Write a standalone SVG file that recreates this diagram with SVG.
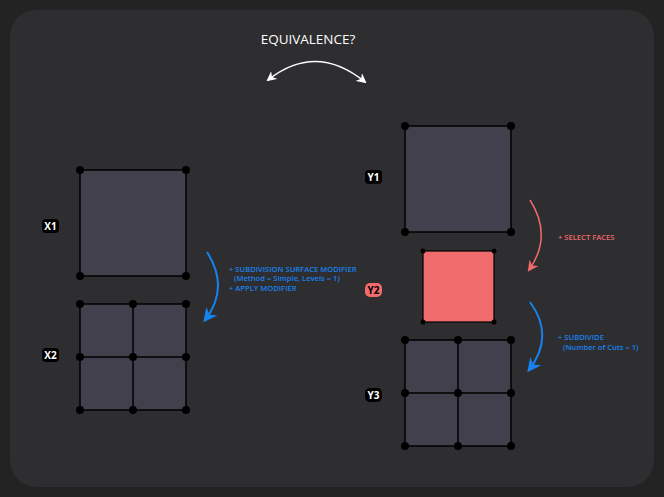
<svg xmlns="http://www.w3.org/2000/svg" width="664" height="497" viewBox="0 0 664 497">
<defs>
<style>
.face{fill:#42404c;stroke:#000;stroke-width:1.5}
.sel{fill:#f06b6b;stroke:#000;stroke-width:1.2}
.edge{stroke:#000;stroke-width:1.5}
.v{fill:#000}
.lbl{fill:#000}
.lt{font-family:"Open Sans","DejaVu Sans",sans-serif;font-weight:700;font-size:10px;fill:#fff;text-anchor:middle}
.note{font-family:"Open Sans","DejaVu Sans",sans-serif;font-weight:600;font-size:7.6px}
.blue{fill:#1782ee}
.red{fill:#f06b6b}
</style>
<marker id="ab" viewBox="0 0 10 10" refX="8" refY="5" markerWidth="14" markerHeight="14" markerUnits="userSpaceOnUse" orient="auto-start-reverse"><path d="M0,0 L10,5 L0,10 L3,5 Z" fill="#1782ee"/></marker>
<marker id="ar" viewBox="0 0 10 10" refX="8" refY="5" markerWidth="11" markerHeight="11" markerUnits="userSpaceOnUse" orient="auto-start-reverse"><path d="M0,0 L10,5 L0,10 L3,5 Z" fill="#f06b6b"/></marker>
<marker id="aw" viewBox="0 0 10 10" refX="8" refY="5" markerWidth="10" markerHeight="10" markerUnits="userSpaceOnUse" orient="auto-start-reverse"><path d="M0,0 L10,5 L0,10 L3,5 Z" fill="#fff"/></marker>
</defs>
<rect width="664" height="497" fill="#232323"/>
<rect x="10" y="10" width="644" height="477" rx="26" fill="#2e2d30"/>
<text x="308" y="44" text-anchor="middle" font-family="Open Sans, DejaVu Sans, sans-serif" font-size="13.5" fill="#fff">EQUIVALENCE?</text>

<g id="connectors" fill="none">
<path d="M268,80 Q316,42 365,82" stroke="#fff" stroke-width="1.3" marker-start="url(#aw)" marker-end="url(#aw)"/>
<path d="M207,252 Q230,288 205,320" stroke="#1782ee" stroke-width="2" marker-end="url(#ab)"/>
<path d="M530,200 Q553,236 529,270" stroke="#f06b6b" stroke-width="1.5" marker-end="url(#ar)"/>
<path d="M530,302 Q555,336 529,370" stroke="#1782ee" stroke-width="2" marker-end="url(#ab)"/>
</g>

<g id="notes">
<text class="note blue" x="229" y="272">+ SUBDIVISION SURFACE MODIFIER</text>
<text class="note blue" x="234" y="281">(Method = Simple, Levels = 1)</text>
<text class="note blue" x="229" y="291">+ APPLY MODIFIER</text>
<text class="note red" x="558" y="240">+ SELECT FACES</text>
<text class="note blue" x="558" y="340">+ SUBDIVIDE</text>
<text class="note blue" x="563" y="350">(Number of Cuts = 1)</text>
</g>

<g id="X1">
<rect class="face" x="80" y="170" width="106" height="106"/>
<circle class="v" cx="80" cy="170" r="4"/><circle class="v" cx="186" cy="170" r="4"/>
<circle class="v" cx="80" cy="276" r="4"/><circle class="v" cx="186" cy="276" r="4"/>
<rect class="lbl" x="42" y="219" width="17" height="14" rx="4"/>
<text class="lt" x="50.5" y="230">X1</text>
</g>

<g id="X2">
<rect class="face" x="80" y="304" width="106" height="106"/>
<line class="edge" x1="133" y1="304" x2="133" y2="410"/>
<line class="edge" x1="80" y1="357" x2="186" y2="357"/>
<circle class="v" cx="80" cy="304" r="4"/><circle class="v" cx="133" cy="304" r="4"/><circle class="v" cx="186" cy="304" r="4"/>
<circle class="v" cx="80" cy="357" r="4"/><circle class="v" cx="133" cy="357" r="4"/><circle class="v" cx="186" cy="357" r="4"/>
<circle class="v" cx="80" cy="410" r="4"/><circle class="v" cx="133" cy="410" r="4"/><circle class="v" cx="186" cy="410" r="4"/>
<rect class="lbl" x="42" y="348" width="17" height="14" rx="4"/>
<text class="lt" x="50.5" y="359">X2</text>
</g>

<g id="Y1">
<rect class="face" x="405" y="126" width="106" height="106"/>
<circle class="v" cx="405" cy="126" r="4"/><circle class="v" cx="511" cy="126" r="4"/>
<circle class="v" cx="405" cy="232" r="4"/><circle class="v" cx="511" cy="232" r="4"/>
<rect class="lbl" x="365" y="170" width="17" height="14" rx="4"/>
<text class="lt" x="373.5" y="181">Y1</text>
</g>

<g id="Y2">
<rect class="sel" x="423" y="251" width="71" height="71"/>
<circle class="v" cx="423" cy="251" r="2.5"/><circle class="v" cx="494" cy="251" r="2.5"/>
<circle class="v" cx="423" cy="322" r="2.5"/><circle class="v" cx="494" cy="322" r="2.5"/>
<rect x="365" y="283" width="17" height="14" rx="5" fill="#f06b6b"/>
<text class="lt" x="373.5" y="294" style="fill:#000">Y2</text>
</g>

<g id="Y3">
<rect class="face" x="405" y="340" width="106" height="106"/>
<line class="edge" x1="458" y1="340" x2="458" y2="446"/>
<line class="edge" x1="405" y1="393" x2="511" y2="393"/>
<circle class="v" cx="405" cy="340" r="4"/><circle class="v" cx="458" cy="340" r="4"/><circle class="v" cx="511" cy="340" r="4"/>
<circle class="v" cx="405" cy="393" r="4"/><circle class="v" cx="458" cy="393" r="4"/><circle class="v" cx="511" cy="393" r="4"/>
<circle class="v" cx="405" cy="446" r="4"/><circle class="v" cx="458" cy="446" r="4"/><circle class="v" cx="511" cy="446" r="4"/>
<rect class="lbl" x="365" y="388" width="17" height="14" rx="5"/>
<text class="lt" x="373.5" y="399">Y3</text>
</g>
</svg>
